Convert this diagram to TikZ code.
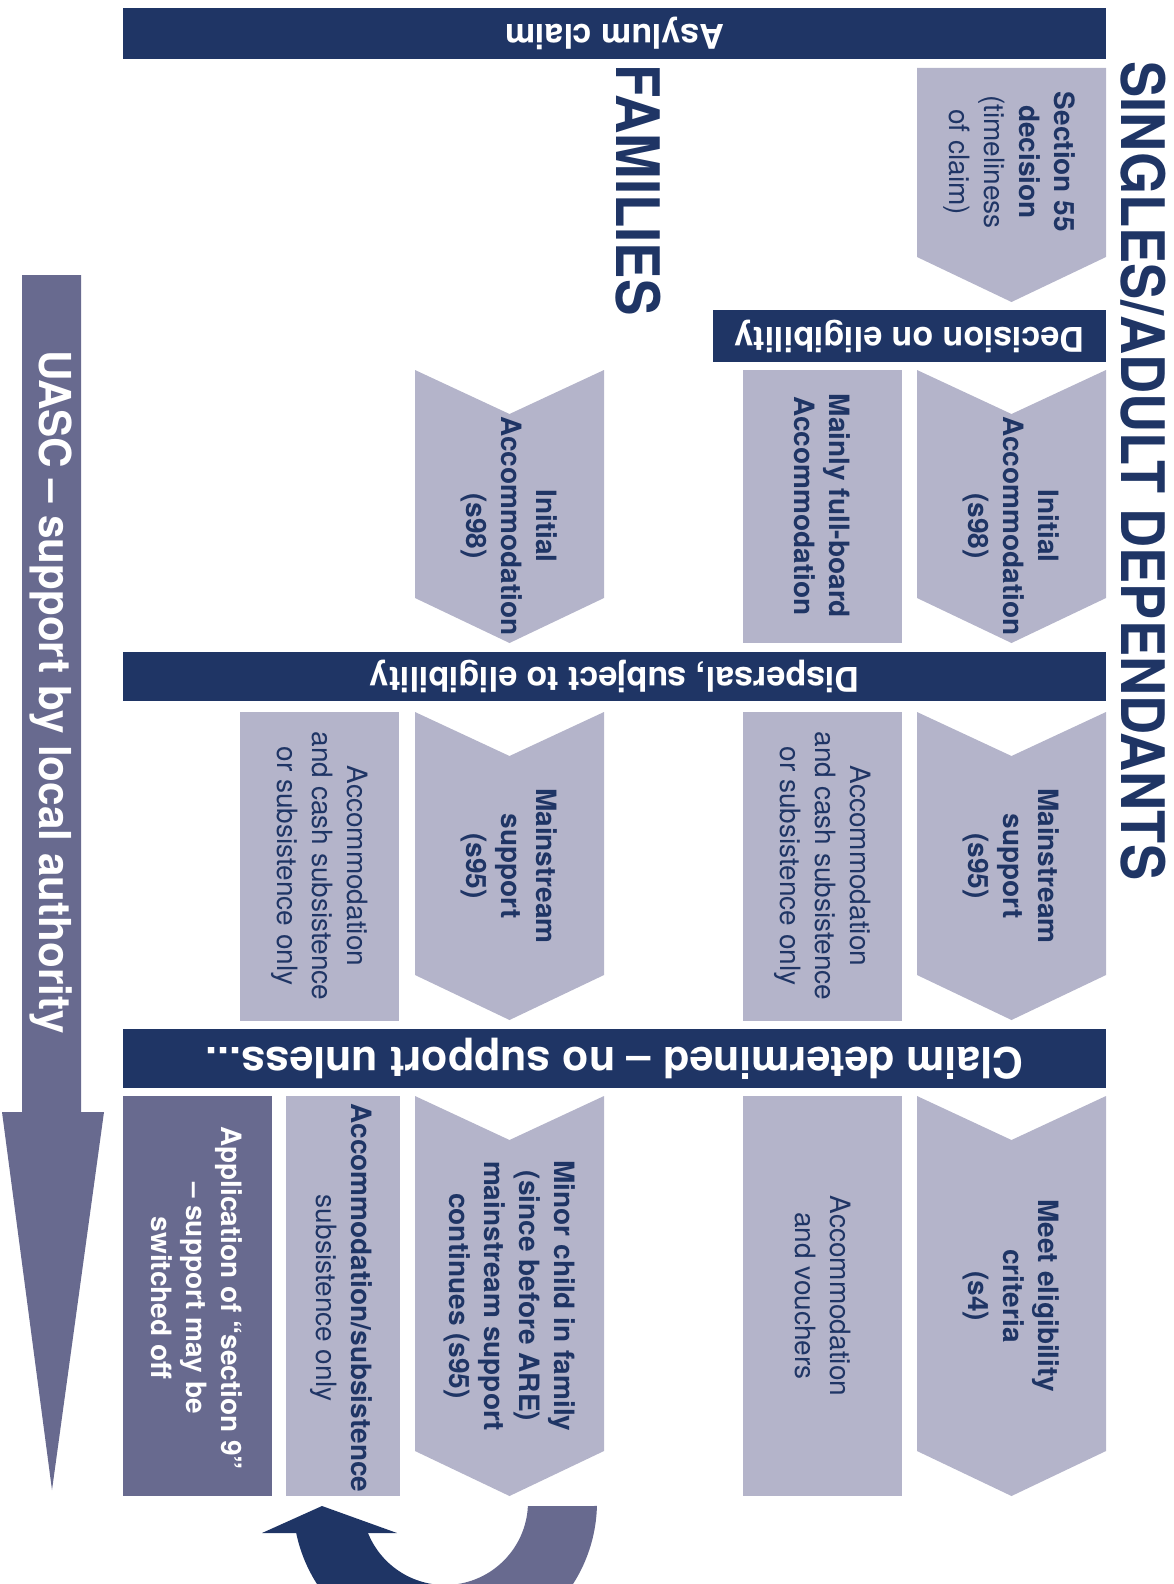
\documentclass[tikz,border=0pt]{standalone}
\usepackage{fontspec}
\setmainfont{TeX Gyre Heros}
\usepackage{graphicx}
\definecolor{navy}{RGB}{31,53,101}
\definecolor{lav}{RGB}{180,180,202}
\definecolor{mpurp}{RGB}{104,106,143}
\tikzset{
  barfill/.style={fill=navy},
  bartext/.style={text=white,font=\fontsize{17}{20}\selectfont\bfseries,rotate=180,inner sep=0pt},
  boxtext/.style={text=navy,font=\fontsize{14}{17.5}\selectfont,rotate=-90,align=center,inner sep=0pt},
  whitetext/.style={boxtext,text=white},
  titletext/.style={text=navy,font=\fontsize{30}{36}\selectfont\bfseries,rotate=-90,inner sep=0pt},
}
% chevron: x1 x2 ytop ybot (px)
\newcommand\mychev[4]{\fill[lav] (#1,#3) -- ({(#1+#2)/2},#3+44) -- (#2,#3) -- (#2,#4-45) -- ({(#1+#2)/2},#4) -- (#1,#4-45) -- cycle;}
\begin{document}
\begin{tikzpicture}[x=0.5pt,y=-0.5pt]
\useasboundingbox (0,0) rectangle (1173,1584);

% horizontal bars
\fill[barfill] (123,8) rectangle (1106,59);
\node[bartext] (asylum) at (614.5,33.5) {Asylum claim};
\fill[barfill] (713,310) rectangle (1106,362);
\node[bartext] (decision) at (909.5,336) {Decision on eligibility};
\fill[barfill] (123,652) rectangle (1106,701);
\node[bartext] (dispersal) at (614.5,676.5) {Dispersal, subject to eligibility};
\fill[barfill] (123,1029) rectangle (1106,1088);
\node[bartext,font=\fontsize{21.5}{25}\selectfont\bfseries] (claim) at (614.5,1058.5) {Claim determined – no support unless...};

% titles
\node[titletext] (singles) at (1143,471) {\scalebox{0.903}[1]{SINGLES/ADULT DEPENDANTS}};
\node[titletext] (families) at (638,190) {\scalebox{0.91}[1]{FAMILIES}};

% Section 55 (flat top)
\fill[lav] (917,68) -- (1106,68) -- (1106,257) -- (1011.5,302) -- (917,257) -- cycle;
\node[boxtext] (sec55) at (1009,162) {\textbf{Section 55}\\\textbf{decision}\\(timeliness\\of claim)};

% row 2
\mychev{917}{1106}{370}{643}
\node[boxtext,font=\fontsize{14}{17.5}\selectfont\bfseries] (initS) at (1011,526) {Initial\\Accommodation\\(s98)};
\fill[lav] (743,370) rectangle (902,643);
\node[boxtext,font=\fontsize{14}{17.5}\selectfont\bfseries] (fullboard) at (822.5,506) {Mainly full-board\\Accommodation};
\mychev{415}{604}{370}{643}
\node[boxtext,font=\fontsize{14}{17.5}\selectfont\bfseries] (initF) at (509.5,526) {Initial\\Accommodation\\(s98)};

% row 3
\mychev{917}{1106}{712}{1020}
\node[boxtext,font=\fontsize{14}{17.5}\selectfont\bfseries] (mainS) at (1011,866) {Mainstream\\support\\(s95)};
\fill[lav] (743,712) rectangle (902,1021);
\node[boxtext] (cashS) at (822.5,866) {Accommodation\\and cash subsistence\\or subsistence only};
\mychev{415}{604}{712}{1020}
\node[boxtext,font=\fontsize{14}{17.5}\selectfont\bfseries] (mainF) at (509.5,866) {Mainstream\\support\\(s95)};
\fill[lav] (240,712) rectangle (399,1021);
\node[boxtext] (cashF) at (319.5,866) {Accommodation\\and cash subsistence\\or subsistence only};

% row 4
\mychev{917}{1106}{1096}{1496}
\node[boxtext,font=\fontsize{14}{17.5}\selectfont\bfseries] (meet) at (1011,1296) {Meet eligibility\\criteria\\(s4)};
\fill[lav] (743,1096) rectangle (902,1496);
\node[boxtext] (vouch) at (822.5,1296) {Accommodation\\and vouchers};
\mychev{415}{604}{1096}{1496}
\node[boxtext,font=\fontsize{14}{17.5}\selectfont\bfseries] (minor) at (509.5,1296) {Minor child in family\\(since before ARE)\\mainstream support\\continues (s95)};
\fill[lav] (286,1096) rectangle (400,1496);
\node[boxtext] (subs) at (341,1298) {\textbf{Accommodation/subsistence}\\subsistence only};
\fill[mpurp] (123,1096) rectangle (272,1496);
\node[whitetext,font=\fontsize{14}{17.5}\selectfont\bfseries] (sec9) at (197,1298) {Application of “section 9”\\– support may be\\switched off};

% UASC arrow
\fill[mpurp] (22,275) -- (81,275) -- (81,1112) -- (104,1112) -- (52,1490) -- (2,1112) -- (22,1112) -- cycle;
\node[rotate=-90,text=white,font=\fontsize{22}{26}\selectfont\bfseries,inner sep=0pt] (uasc) at (51,692) {\scalebox{0.96}[1]{UASC – support by local authority}};

% curved arrow at bottom
\begin{scope}
\clip (0,0) rectangle (1173,1584);
\coordinate (C) at (445,1502);
\fill[mpurp] ([shift={(358.5:76pt)}]C) arc[start angle=358.5,end angle=273,radius=76pt]
  -- ([shift={(273:41.5pt)}]C) arc[start angle=273,end angle=357.2,radius=41.5pt] -- cycle;
\fill[navy] ([shift={(191.8:76pt)}]C) arc[start angle=191.8,end angle=269,radius=76pt]
  -- ([shift={(269:41.5pt)}]C) arc[start angle=269,end angle=201.9,radius=41.5pt] -- cycle;
\fill[navy] (322,1506) -- (397,1533) -- (262,1533) -- cycle;
\end{scope}
\end{tikzpicture}
\end{document}
